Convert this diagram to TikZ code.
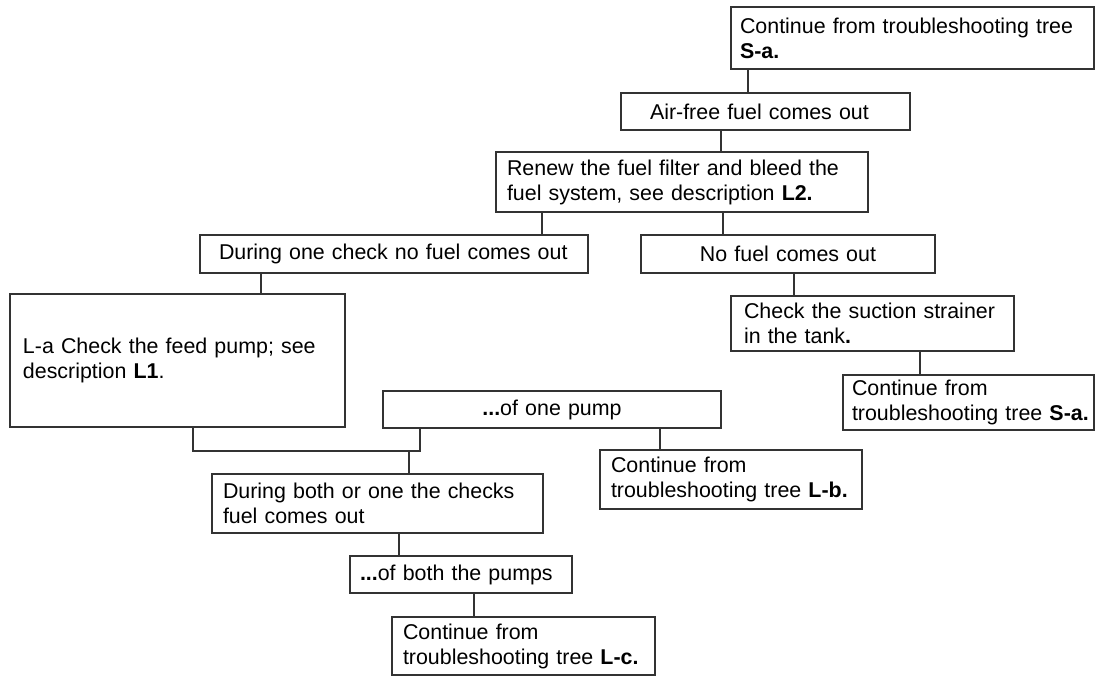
\documentclass[tikz,border=0pt]{standalone}
\usepackage{fontspec}
\setmainfont{Liberation Sans}
\usepackage{tikz}

\begin{document}
\begin{tikzpicture}
  [
    x=1pt, y=-1pt,
    link/.style={line width=1.3pt, black!80},
    box/.style={draw=black!80, line width=1.3pt, anchor=north west, align=left,
                inner xsep=11pt, inner ysep=0pt, outer sep=0pt,
                font=\fontsize{21.4}{25}\selectfont},
    midbox/.style={box, align=center}
  ]
  \useasboundingbox (0,0) rectangle (1111,676);

  \node[box, minimum height=62, inner xsep=9pt, text width=345] (contSa) at (731,7)
    {Continue from troubleshooting tree\\\mbox{\textbf{S-a.}}};
  \node[box, minimum height=37, inner xsep=29pt, text width=231] (airfree) at (621,93)
    {Air-free fuel comes out};
  \node[box, minimum height=60, text width=350] (renew) at (496,152)
    {Renew the fuel filter and bleed the\\fuel system, see description \textbf{L2.}};
  \node[box, minimum height=38, inner xsep=19pt, text width=350] (onecheck) at (200,235)
    {During one check no fuel comes out};
  \node[midbox, minimum height=38, text width=272] (nofuel) at (641,235)
    {No fuel comes out};
  \node[box, minimum height=133, inner xsep=13pt, text width=309] (feedpump) at (10,294)
    {L-a Check the feed pump; see\\description \textbf{L1}.};
  \node[box, minimum height=55, inner xsep=13pt, text width=257] (strainer) at (731,296)
    {Check the suction strainer\\in the tank\textbf{.}};
  \node[box, minimum height=55, inner xsep=9pt, text width=233] (strainerSa) at (843,375)
    {Continue from\\\mbox{troubleshooting tree \textbf{S-a.}}};
  \node[midbox, minimum height=37, text width=316] (onepump) at (383,391)
    {\textbf{...}of one pump};
  \node[box, minimum height=59, text width=240] (contLb) at (600,450)
    {Continue from\\\mbox{troubleshooting tree \textbf{L-b.}}};
  \node[box, minimum height=59, text width=309] (bothchecks) at (212,474)
    {During both or one the checks\\fuel comes out};
  \node[box, minimum height=37, inner xsep=10pt, text width=202] (bothpumps) at (350,556)
    {\textbf{...}of both the pumps};
  \node[box, minimum height=58, text width=241] (contLc) at (392,617)
    {Continue from\\\mbox{troubleshooting tree \textbf{L-c.}}};

  \draw[link] (contSa.south -| 748,0) -- (airfree.north -| 748,0);
  \draw[link] (airfree.south -| 721,0) -- (renew.north -| 721,0);
  \draw[link] (renew.south -| 542,0) -- (onecheck.north -| 542,0);
  \draw[link] (renew.south -| 723,0) -- (nofuel.north -| 723,0);
  \draw[link] (onecheck.south -| 261,0) -- (feedpump.north -| 261,0);
  \draw[link] (nofuel.south -| 794,0) -- (strainer.north -| 794,0);
  \draw[link] (strainer.south -| 920,0) -- (strainerSa.north -| 920,0);
  \draw[link] (onepump.south -| 660,0) -- (contLb.north -| 660,0);

  \coordinate (join) at (409,451);
  \draw[link] (feedpump.south -| 193,0) |- (join -| 420,0) -- (onepump.south -| 420,0);
  \draw[link] (join) -- (bothchecks.north -| join);
  \draw[link] (bothchecks.south -| 399,0) -- (bothpumps.north -| 399,0);
  \draw[link] (bothpumps.south -| 474,0) -- (contLc.north -| 474,0);
\end{tikzpicture}
\end{document}
